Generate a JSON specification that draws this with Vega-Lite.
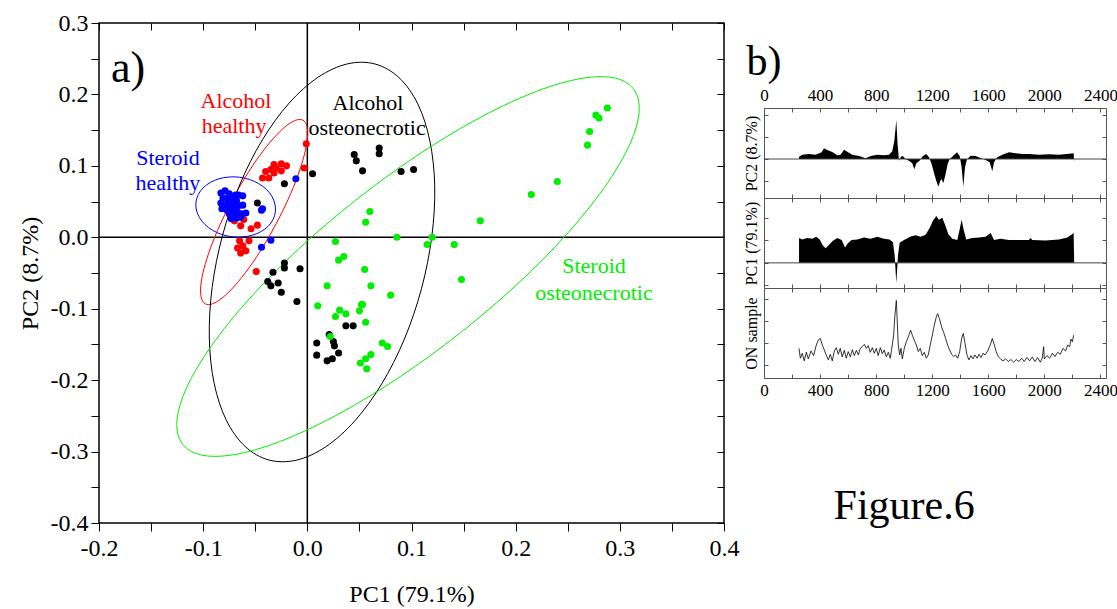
{
"$schema": "https://vega.github.io/schema/vega-lite/v6.json",
"background": "white",
"padding": {"left": 17, "top": 10, "right": 0, "bottom": 0},
"config": {
  "font": "Liberation Serif",
  "view": {"stroke": null},
  "axis": {"labelFont": "Liberation Serif", "titleFont": "Liberation Serif", "labelColor": "black", "titleColor": "black", "titleFontWeight": "normal", "domainColor": "black", "tickColor": "black", "grid": false, "labelFlush": false, "labelOverlap": false},
  "text": {"font": "Liberation Serif"}
},
"datasets": {
  "points": [
    {"g":"AH","x":-0.001,"y":0.131},{"g":"AH","x":-0.003,"y":0.097},{"g":"AH","x":-0.032,"y":0.102},{"g":"AH","x":-0.025,"y":0.103},{"g":"AH","x":-0.040,"y":0.092},{"g":"AH","x":-0.035,"y":0.095},{"g":"AH","x":-0.030,"y":0.097},{"g":"AH","x":-0.025,"y":0.093},{"g":"AH","x":-0.037,"y":0.083},{"g":"AH","x":-0.032,"y":0.090},{"g":"AH","x":-0.020,"y":0.100},{"g":"AH","x":-0.043,"y":0.083},{"g":"AH","x":-0.070,"y":0.023},{"g":"AH","x":-0.061,"y":0.025},{"g":"AH","x":-0.064,"y":0.016},{"g":"AH","x":-0.048,"y":0.017},{"g":"AH","x":-0.068,"y":0.034},{"g":"AH","x":-0.054,"y":0.012},{"g":"AH","x":-0.065,"y":-0.005},{"g":"AH","x":-0.062,"y":-0.012},{"g":"AH","x":-0.059,"y":-0.019},{"g":"AH","x":-0.056,"y":-0.005},{"g":"AH","x":-0.067,"y":-0.015},{"g":"AH","x":-0.064,"y":-0.022},{"g":"AH","x":-0.049,"y":-0.048},
    {"g":"SH","x":-0.083,"y":0.062},{"g":"SH","x":-0.079,"y":0.065},{"g":"SH","x":-0.075,"y":0.061},{"g":"SH","x":-0.081,"y":0.055},{"g":"SH","x":-0.077,"y":0.054},{"g":"SH","x":-0.073,"y":0.056},{"g":"SH","x":-0.069,"y":0.059},{"g":"SH","x":-0.066,"y":0.059},{"g":"SH","x":-0.062,"y":0.058},{"g":"SH","x":-0.083,"y":0.048},{"g":"SH","x":-0.079,"y":0.045},{"g":"SH","x":-0.075,"y":0.048},{"g":"SH","x":-0.071,"y":0.049},{"g":"SH","x":-0.068,"y":0.051},{"g":"SH","x":-0.082,"y":0.040},{"g":"SH","x":-0.077,"y":0.038},{"g":"SH","x":-0.073,"y":0.041},{"g":"SH","x":-0.069,"y":0.042},{"g":"SH","x":-0.066,"y":0.044},{"g":"SH","x":-0.062,"y":0.045},{"g":"SH","x":-0.075,"y":0.033},{"g":"SH","x":-0.070,"y":0.034},{"g":"SH","x":-0.067,"y":0.035},{"g":"SH","x":-0.063,"y":0.033},{"g":"SH","x":-0.059,"y":0.034},{"g":"SH","x":-0.073,"y":0.026},{"g":"SH","x":-0.068,"y":0.027},{"g":"SH","x":-0.064,"y":0.028},{"g":"SH","x":-0.044,"y":0.038},{"g":"SH","x":-0.043,"y":0.040},{"g":"SH","x":-0.011,"y":0.082},{"g":"SH","x":-0.035,"y":-0.004},{"g":"SH","x":-0.044,"y":-0.014},
    {"g":"AO","x":0.005,"y":0.089},{"g":"AO","x":-0.022,"y":0.075},{"g":"AO","x":-0.048,"y":0.048},{"g":"AO","x":0.045,"y":0.116},{"g":"AO","x":0.047,"y":0.107},{"g":"AO","x":0.053,"y":0.093},{"g":"AO","x":0.069,"y":0.125},{"g":"AO","x":0.069,"y":0.117},{"g":"AO","x":0.090,"y":0.092},{"g":"AO","x":0.102,"y":0.095},{"g":"AO","x":-0.022,"y":-0.036},{"g":"AO","x":-0.022,"y":-0.043},{"g":"AO","x":-0.007,"y":-0.044},{"g":"AO","x":-0.033,"y":-0.049},{"g":"AO","x":-0.038,"y":-0.062},{"g":"AO","x":-0.035,"y":-0.068},{"g":"AO","x":-0.028,"y":-0.064},{"g":"AO","x":-0.025,"y":-0.077},{"g":"AO","x":-0.010,"y":-0.090},{"g":"AO","x":0.037,"y":-0.124},{"g":"AO","x":0.044,"y":-0.124},{"g":"AO","x":0.021,"y":-0.136},{"g":"AO","x":0.009,"y":-0.148},{"g":"AO","x":0.025,"y":-0.146},{"g":"AO","x":0.026,"y":-0.152},{"g":"AO","x":0.009,"y":-0.165},{"g":"AO","x":0.030,"y":-0.162},{"g":"AO","x":0.019,"y":-0.173},{"g":"AO","x":0.024,"y":-0.170},
    {"g":"SO","x":0.288,"y":0.181},{"g":"SO","x":0.280,"y":0.167},{"g":"SO","x":0.277,"y":0.171},{"g":"SO","x":0.271,"y":0.148},{"g":"SO","x":0.269,"y":0.129},{"g":"SO","x":0.240,"y":0.078},{"g":"SO","x":0.215,"y":0.060},{"g":"SO","x":0.166,"y":0.023},{"g":"SO","x":0.141,"y":-0.010},{"g":"SO","x":0.148,"y":-0.059},{"g":"SO","x":0.060,"y":0.036},{"g":"SO","x":0.056,"y":0.021},{"g":"SO","x":0.027,"y":-0.006},{"g":"SO","x":0.086,"y":0.000},{"g":"SO","x":0.120,"y":0.000},{"g":"SO","x":0.115,"y":-0.010},{"g":"SO","x":0.035,"y":-0.027},{"g":"SO","x":0.030,"y":-0.032},{"g":"SO","x":0.055,"y":-0.045},{"g":"SO","x":0.061,"y":-0.068},{"g":"SO","x":0.019,"y":-0.068},{"g":"SO","x":0.080,"y":-0.081},{"g":"SO","x":0.010,"y":-0.096},{"g":"SO","x":0.052,"y":-0.094},{"g":"SO","x":0.053,"y":-0.094},{"g":"SO","x":0.050,"y":-0.103},{"g":"SO","x":0.031,"y":-0.102},{"g":"SO","x":0.037,"y":-0.107},{"g":"SO","x":0.027,"y":-0.111},{"g":"SO","x":0.056,"y":-0.119},{"g":"SO","x":0.022,"y":-0.139},{"g":"SO","x":0.072,"y":-0.148},{"g":"SO","x":0.077,"y":-0.153},{"g":"SO","x":0.061,"y":-0.164},{"g":"SO","x":0.056,"y":-0.170},{"g":"SO","x":0.051,"y":-0.176},{"g":"SO","x":0.057,"y":-0.184}
  ],
  "ellipses": [
    {"g":"SH","i":0,"x":-0.0307,"y":0.0356},{"g":"SH","i":1,"x":-0.0329,"y":0.0250},{"g":"SH","i":2,"x":-0.0375,"y":0.0156},{"g":"SH","i":3,"x":-0.0443,"y":0.0081},{"g":"SH","i":4,"x":-0.0528,"y":0.0029},{"g":"SH","i":5,"x":-0.0623,"y":0.0004},{"g":"SH","i":6,"x":-0.0723,"y":0.0007},{"g":"SH","i":7,"x":-0.0820,"y":0.0039},{"g":"SH","i":8,"x":-0.0909,"y":0.0097},{"g":"SH","i":9,"x":-0.0982,"y":0.0178},{"g":"SH","i":10,"x":-0.1035,"y":0.0275},{"g":"SH","i":11,"x":-0.1065,"y":0.0382},{"g":"SH","i":12,"x":-0.1069,"y":0.0492},{"g":"SH","i":13,"x":-0.1047,"y":0.0598},{"g":"SH","i":14,"x":-0.1000,"y":0.0692},{"g":"SH","i":15,"x":-0.0932,"y":0.0767},{"g":"SH","i":16,"x":-0.0848,"y":0.0819},{"g":"SH","i":17,"x":-0.0752,"y":0.0844},{"g":"SH","i":18,"x":-0.0653,"y":0.0841},{"g":"SH","i":19,"x":-0.0555,"y":0.0809},{"g":"SH","i":20,"x":-0.0467,"y":0.0751},{"g":"SH","i":21,"x":-0.0393,"y":0.0671},{"g":"SH","i":22,"x":-0.0340,"y":0.0573},{"g":"SH","i":23,"x":-0.0311,"y":0.0466},
    {"g":"AH","i":0,"x":-0.0042,"y":0.1640},{"g":"AH","i":1,"x":-0.0003,"y":0.1553},{"g":"AH","i":2,"x":0.0001,"y":0.1385},{"g":"AH","i":3,"x":-0.0030,"y":0.1147},{"g":"AH","i":4,"x":-0.0093,"y":0.0855},{"g":"AH","i":5,"x":-0.0185,"y":0.0528},{"g":"AH","i":6,"x":-0.0299,"y":0.0190},{"g":"AH","i":7,"x":-0.0427,"y":-0.0137},{"g":"AH","i":8,"x":-0.0562,"y":-0.0431},{"g":"AH","i":9,"x":-0.0692,"y":-0.0671},{"g":"AH","i":10,"x":-0.0811,"y":-0.0842},{"g":"AH","i":11,"x":-0.0909,"y":-0.0930},{"g":"AH","i":12,"x":-0.0980,"y":-0.0932},{"g":"AH","i":13,"x":-0.1018,"y":-0.0845},{"g":"AH","i":14,"x":-0.1023,"y":-0.0677},{"g":"AH","i":15,"x":-0.0992,"y":-0.0439},{"g":"AH","i":16,"x":-0.0929,"y":-0.0147},{"g":"AH","i":17,"x":-0.0837,"y":0.0180},{"g":"AH","i":18,"x":-0.0723,"y":0.0518},{"g":"AH","i":19,"x":-0.0594,"y":0.0845},{"g":"AH","i":20,"x":-0.0460,"y":0.1139},{"g":"AH","i":21,"x":-0.0329,"y":0.1379},{"g":"AH","i":22,"x":-0.0211,"y":0.1550},{"g":"AH","i":23,"x":-0.0113,"y":0.1638},
    {"g":"AO","i":0,"x":0.0650,"y":0.2426},{"g":"AO","i":1,"x":0.0880,"y":0.2235},{"g":"AO","i":2,"x":0.1060,"y":0.1868},{"g":"AO","i":3,"x":0.1176,"y":0.1350},{"g":"AO","i":4,"x":0.1223,"y":0.0717},{"g":"AO","i":5,"x":0.1195,"y":0.0011},{"g":"AO","i":6,"x":0.1096,"y":-0.0719},{"g":"AO","i":7,"x":0.0932,"y":-0.1424},{"g":"AO","i":8,"x":0.0713,"y":-0.2055},{"g":"AO","i":9,"x":0.0456,"y":-0.2570},{"g":"AO","i":10,"x":0.0177,"y":-0.2933},{"g":"AO","i":11,"x":-0.0104,"y":-0.3120},{"g":"AO","i":12,"x":-0.0369,"y":-0.3118},{"g":"AO","i":13,"x":-0.0598,"y":-0.2927},{"g":"AO","i":14,"x":-0.0778,"y":-0.2560},{"g":"AO","i":15,"x":-0.0895,"y":-0.2042},{"g":"AO","i":16,"x":-0.0941,"y":-0.1409},{"g":"AO","i":17,"x":-0.0914,"y":-0.0703},{"g":"AO","i":18,"x":-0.0814,"y":0.0027},{"g":"AO","i":19,"x":-0.0650,"y":0.0732},{"g":"AO","i":20,"x":-0.0432,"y":0.1363},{"g":"AO","i":21,"x":-0.0175,"y":0.1878},{"g":"AO","i":22,"x":0.0104,"y":0.2241},{"g":"AO","i":23,"x":0.0386,"y":0.2428},
    {"g":"SO","i":0,"x":0.3129,"y":0.2081},{"g":"SO","i":1,"x":0.3185,"y":0.1756},{"g":"SO","i":2,"x":0.3090,"y":0.1284},{"g":"SO","i":3,"x":0.2851,"y":0.0696},{"g":"SO","i":4,"x":0.2483,"y":0.0032},{"g":"SO","i":5,"x":0.2012,"y":-0.0661},{"g":"SO","i":6,"x":0.1469,"y":-0.1337},{"g":"SO","i":7,"x":0.0893,"y":-0.1950},{"g":"SO","i":8,"x":0.0321,"y":-0.2458},{"g":"SO","i":9,"x":-0.0207,"y":-0.2827},{"g":"SO","i":10,"x":-0.0655,"y":-0.3030},{"g":"SO","i":11,"x":-0.0992,"y":-0.3055},{"g":"SO","i":12,"x":-0.1196,"y":-0.2899},{"g":"SO","i":13,"x":-0.1252,"y":-0.2574},{"g":"SO","i":14,"x":-0.1158,"y":-0.2102},{"g":"SO","i":15,"x":-0.0918,"y":-0.1514},{"g":"SO","i":16,"x":-0.0550,"y":-0.0850},{"g":"SO","i":17,"x":-0.0079,"y":-0.0157},{"g":"SO","i":18,"x":0.0464,"y":0.0519},{"g":"SO","i":19,"x":0.1040,"y":0.1132},{"g":"SO","i":20,"x":0.1612,"y":0.1640},{"g":"SO","i":21,"x":0.2140,"y":0.2009},{"g":"SO","i":22,"x":0.2588,"y":0.2212},{"g":"SO","i":23,"x":0.2925,"y":0.2237}
  ],
  "labels": [
    {"g":"AH","x":-0.0685,"y":0.191,"t":"Alcohol"},{"g":"AH","x":-0.0704,"y":0.156,"t":"healthy"},
    {"g":"SH","x":-0.1338,"y":0.111,"t":"Steroid"},{"g":"SH","x":-0.1338,"y":0.076,"t":"healthy"},
    {"g":"AO","x":0.0582,"y":0.188,"t":"Alcohol"},{"g":"AO","x":0.0573,"y":0.153,"t":"osteonecrotic"},
    {"g":"SO","x":0.2752,"y":-0.040,"t":"Steroid"},{"g":"SO","x":0.2752,"y":-0.078,"t":"osteonecrotic"}
  ],
  "pc2": [
    {"x":250,"v":0.07},{"x":273,"v":0.13},{"x":321,"v":0.15},{"x":368,"v":0.13},{"x":411,"v":0.20},{"x":428,"v":0.32},{"x":451,"v":0.27},{"x":487,"v":0.21},{"x":523,"v":0.11},{"x":547,"v":0.13},{"x":571,"v":0.28},{"x":594,"v":0.22},{"x":630,"v":0.13},{"x":678,"v":0.09},{"x":725,"v":0.02},{"x":761,"v":0.09},{"x":808,"v":0.13},{"x":856,"v":0.11},{"x":892,"v":0.13},{"x":915,"v":0.23},{"x":930,"v":0.55},{"x":944,"v":1.17},{"x":953,"v":0.45},{"x":963,"v":-0.05},{"x":977,"v":0.07},{"x":991,"v":0.09},{"x":1011,"v":-0.01},{"x":1034,"v":-0.05},{"x":1058,"v":-0.13},{"x":1072,"v":-0.31},{"x":1087,"v":-0.13},{"x":1110,"v":-0.05},{"x":1134,"v":0.09},{"x":1158,"v":0.15},{"x":1177,"v":0.05},{"x":1196,"v":-0.15},{"x":1215,"v":-0.45},{"x":1229,"v":-0.65},{"x":1244,"v":-0.83},{"x":1258,"v":-0.65},{"x":1267,"v":-0.60},{"x":1279,"v":-0.73},{"x":1296,"v":-0.45},{"x":1310,"v":-0.15},{"x":1324,"v":-0.01},{"x":1348,"v":0.09},{"x":1377,"v":0.20},{"x":1396,"v":0.09},{"x":1410,"v":-0.25},{"x":1422,"v":-0.83},{"x":1434,"v":-0.25},{"x":1448,"v":-0.01},{"x":1474,"v":0.10},{"x":1510,"v":0.09},{"x":1545,"v":0.03},{"x":1581,"v":-0.03},{"x":1610,"v":-0.10},{"x":1629,"v":-0.37},{"x":1641,"v":-0.10},{"x":1664,"v":0.05},{"x":1700,"v":0.13},{"x":1748,"v":0.20},{"x":1795,"v":0.17},{"x":1843,"v":0.15},{"x":1890,"v":0.15},{"x":1962,"v":0.13},{"x":2033,"v":0.14},{"x":2104,"v":0.13},{"x":2176,"v":0.16},{"x":2209,"v":0.17},{"x":2213,"v":-0.1}
  ],
  "pc1": [
    {"x":250,"v":0.73},{"x":273,"v":0.69},{"x":309,"v":0.73},{"x":345,"v":0.71},{"x":373,"v":0.77},{"x":397,"v":0.69},{"x":420,"v":0.51},{"x":440,"v":0.43},{"x":464,"v":0.53},{"x":492,"v":0.65},{"x":523,"v":0.73},{"x":554,"v":0.67},{"x":578,"v":0.45},{"x":597,"v":0.57},{"x":625,"v":0.67},{"x":666,"v":0.69},{"x":713,"v":0.75},{"x":761,"v":0.71},{"x":808,"v":0.77},{"x":856,"v":0.71},{"x":896,"v":0.69},{"x":920,"v":0.61},{"x":932,"v":0.23},{"x":944,"v":-0.59},{"x":956,"v":0.23},{"x":968,"v":0.59},{"x":999,"v":0.67},{"x":1046,"v":0.78},{"x":1082,"v":0.81},{"x":1118,"v":0.77},{"x":1153,"v":0.83},{"x":1182,"v":1.03},{"x":1206,"v":1.25},{"x":1229,"v":1.38},{"x":1248,"v":1.27},{"x":1272,"v":1.33},{"x":1291,"v":1.13},{"x":1315,"v":0.85},{"x":1343,"v":0.71},{"x":1379,"v":0.67},{"x":1398,"v":1.03},{"x":1410,"v":1.27},{"x":1424,"v":0.98},{"x":1443,"v":0.69},{"x":1486,"v":0.73},{"x":1534,"v":0.75},{"x":1581,"v":0.77},{"x":1617,"v":0.88},{"x":1641,"v":0.67},{"x":1688,"v":0.71},{"x":1748,"v":0.67},{"x":1819,"v":0.67},{"x":1890,"v":0.67},{"x":1902,"v":0.73},{"x":1914,"v":0.67},{"x":2009,"v":0.66},{"x":2104,"v":0.69},{"x":2164,"v":0.75},{"x":2200,"v":0.85},{"x":2209,"v":0.88},{"x":2213,"v":0}
  ],
  "on": [
    {"x":250,"v":0.90},{"x":259,"v":0.60},{"x":273,"v":0.75},{"x":287,"v":0.52},{"x":302,"v":0.78},{"x":316,"v":0.58},{"x":335,"v":0.82},{"x":354,"v":0.68},{"x":373,"v":1.00},{"x":387,"v":1.15},{"x":402,"v":1.20},{"x":416,"v":1.00},{"x":430,"v":0.85},{"x":444,"v":0.70},{"x":459,"v":0.55},{"x":473,"v":0.72},{"x":487,"v":0.52},{"x":502,"v":0.82},{"x":516,"v":0.92},{"x":530,"v":0.72},{"x":544,"v":0.90},{"x":558,"v":0.64},{"x":573,"v":0.84},{"x":587,"v":0.60},{"x":601,"v":0.80},{"x":616,"v":0.64},{"x":630,"v":0.86},{"x":644,"v":0.68},{"x":659,"v":0.84},{"x":673,"v":0.70},{"x":687,"v":0.90},{"x":701,"v":0.95},{"x":716,"v":1.02},{"x":730,"v":0.90},{"x":744,"v":0.98},{"x":758,"v":0.78},{"x":773,"v":0.92},{"x":787,"v":0.75},{"x":801,"v":0.90},{"x":815,"v":0.68},{"x":830,"v":0.92},{"x":844,"v":0.74},{"x":858,"v":0.85},{"x":873,"v":0.64},{"x":887,"v":0.78},{"x":901,"v":0.60},{"x":915,"v":1.00},{"x":925,"v":1.30},{"x":934,"v":1.90},{"x":944,"v":2.35},{"x":951,"v":1.70},{"x":958,"v":1.00},{"x":968,"v":0.70},{"x":977,"v":0.90},{"x":987,"v":0.58},{"x":1001,"v":0.90},{"x":1015,"v":1.10},{"x":1030,"v":1.25},{"x":1046,"v":1.45},{"x":1058,"v":1.30},{"x":1072,"v":1.15},{"x":1087,"v":1.00},{"x":1101,"v":0.80},{"x":1115,"v":0.90},{"x":1129,"v":0.68},{"x":1144,"v":0.78},{"x":1158,"v":0.60},{"x":1172,"v":0.70},{"x":1186,"v":1.00},{"x":1201,"v":1.30},{"x":1215,"v":1.60},{"x":1229,"v":1.85},{"x":1239,"v":1.95},{"x":1253,"v":1.78},{"x":1267,"v":1.55},{"x":1282,"v":1.38},{"x":1296,"v":1.20},{"x":1310,"v":1.00},{"x":1324,"v":0.85},{"x":1339,"v":0.72},{"x":1353,"v":0.65},{"x":1367,"v":0.70},{"x":1382,"v":0.60},{"x":1396,"v":0.80},{"x":1410,"v":1.20},{"x":1422,"v":1.35},{"x":1434,"v":1.05},{"x":1448,"v":0.70},{"x":1462,"v":0.55},{"x":1477,"v":0.68},{"x":1491,"v":0.58},{"x":1505,"v":0.70},{"x":1520,"v":0.60},{"x":1534,"v":0.72},{"x":1548,"v":0.62},{"x":1562,"v":0.75},{"x":1577,"v":0.70},{"x":1596,"v":0.82},{"x":1614,"v":1.00},{"x":1629,"v":1.20},{"x":1643,"v":1.00},{"x":1657,"v":0.80},{"x":1671,"v":0.65},{"x":1688,"v":0.58},{"x":1705,"v":0.52},{"x":1724,"v":0.58},{"x":1743,"v":0.50},{"x":1762,"v":0.56},{"x":1781,"v":0.48},{"x":1800,"v":0.56},{"x":1819,"v":0.50},{"x":1838,"v":0.60},{"x":1857,"v":0.50},{"x":1876,"v":0.62},{"x":1895,"v":0.52},{"x":1914,"v":0.64},{"x":1933,"v":0.50},{"x":1952,"v":0.62},{"x":1971,"v":0.48},{"x":1985,"v":0.60},{"x":1995,"v":0.95},{"x":2000,"v":0.58},{"x":2019,"v":0.68},{"x":2038,"v":0.60},{"x":2057,"v":0.75},{"x":2076,"v":0.65},{"x":2095,"v":0.78},{"x":2114,"v":0.72},{"x":2133,"v":0.90},{"x":2152,"v":0.82},{"x":2166,"v":1.00},{"x":2181,"v":0.95},{"x":2190,"v":1.18},{"x":2200,"v":1.10},{"x":2209,"v":1.30}
  ]
},
"hconcat": [
  {
    "width": 625, "height": 500,
    "view": {"stroke": "black", "strokeWidth": 1.5},
    "layer": [
      {"data": {"values": [{}]}, "mark": {"type": "rule", "strokeWidth": 1.5, "color": "black"}, "encoding": {"x": {"datum": 0, "type": "quantitative", "axis": null}}},
      {"data": {"values": [{}]}, "mark": {"type": "rule", "strokeWidth": 1.5, "color": "black"}, "encoding": {"y": {"datum": 0, "type": "quantitative", "axis": null}}},
      {
        "data": {"name": "ellipses"},
        "mark": {"type": "line", "interpolate": "cardinal-closed", "strokeWidth": 1},
        "encoding": {
          "x": {"field": "x", "type": "quantitative", "scale": {"domain": [-0.2, 0.4], "nice": false, "zero": false},
                "axis": {"orient": "bottom", "values": [-0.2,-0.15,-0.1,-0.05,0,0.05,0.1,0.15,0.2,0.25,0.3,0.35,0.4], "labelExpr": "abs(datum.value*10 - round(datum.value*10)) < 0.01 ? (datum.value < -0.001 ? '-' : '') + format(abs(datum.value), '.1f') : ''", "tickSize": 8, "labelPadding": 5, "labelFontSize": 24, "domain": false, "title": "PC1 (79.1%)", "titleFontSize": 24, "titlePadding": 22}},
          "y": {"field": "y", "type": "quantitative", "scale": {"domain": [-0.4, 0.3], "nice": false, "zero": false},
                "axis": {"orient": "left", "values": [-0.4,-0.35,-0.3,-0.25,-0.2,-0.15,-0.1,-0.05,0,0.05,0.1,0.15,0.2,0.25,0.3], "labelExpr": "abs(datum.value*10 - round(datum.value*10)) < 0.01 ? (datum.value < -0.001 ? '-' : '') + format(abs(datum.value), '.1f') : ''", "tickSize": 8, "labelPadding": 3, "labelFontSize": 24, "domain": false, "title": "PC2 (8.7%)", "titleFontSize": 24, "titlePadding": 8}},
          "color": {"field": "g", "type": "nominal", "scale": {"domain": ["AH","SH","AO","SO"], "range": ["#ff0000","#0000ff","#000000","#00ee00"]}, "legend": null},
          "order": {"field": "i", "type": "quantitative"}
        }
      },
      {
        "data": {"name": "points"},
        "mark": {"type": "circle", "size": 50, "opacity": 1},
        "encoding": {
          "x": {"field": "x", "type": "quantitative", "axis": {"orient": "top", "values": [-0.2,-0.15,-0.1,-0.05,0,0.05,0.1,0.15,0.2,0.25,0.3,0.35,0.4], "labels": false, "tickSize": -7, "domain": false, "title": null}},
          "y": {"field": "y", "type": "quantitative", "axis": {"orient": "right", "values": [-0.4,-0.35,-0.3,-0.25,-0.2,-0.15,-0.1,-0.05,0,0.05,0.1,0.15,0.2,0.25,0.3], "labels": false, "tickSize": -7, "domain": false, "title": null}},
          "color": {"field": "g", "type": "nominal", "legend": null}
        }
      },
      {
        "data": {"name": "labels"},
        "mark": {"type": "text", "fontSize": 22, "align": "center", "baseline": "middle"},
        "encoding": {
          "x": {"field": "x", "type": "quantitative", "axis": null},
          "y": {"field": "y", "type": "quantitative", "axis": null},
          "text": {"field": "t"},
          "color": {"field": "g", "type": "nominal", "legend": null}
        }
      },
      {
        "data": {"values": [{"x": -0.172, "y": 0.236, "t": "a)"}]},
        "mark": {"type": "text", "fontSize": 44, "align": "center", "baseline": "middle", "color": "black"},
        "encoding": {
          "x": {"field": "x", "type": "quantitative", "axis": null},
          "y": {"field": "y", "type": "quantitative", "axis": null},
          "text": {"field": "t"}
        }
      }
    ],
    "resolve": {"axis": {"x": "independent", "y": "independent"}}
  },
  {
    "spacing": 0,
    "bounds": "flush",
    "vconcat": [
      {
        "width": 342, "height": 85,
        "data": {"values": [{"x": 0, "y": 0.54, "t": "b)"}]},
        "mark": {"type": "text", "fontSize": 42, "align": "center", "baseline": "middle", "color": "black"},
        "encoding": {
          "x": {"field": "x", "type": "quantitative", "scale": {"domain": [0, 2440]}, "axis": null},
          "y": {"field": "y", "type": "quantitative", "scale": {"domain": [0, 1]}, "axis": null},
          "text": {"field": "t"}
        }
      },
      {
        "width": 342, "height": 90,
        "view": {"stroke": "#555", "strokeWidth": 1},
        "layer": [
          {
            "data": {"name": "pc2"},
            "mark": {"type": "area", "color": "black"},
            "encoding": {
              "x": {"field": "x", "type": "quantitative", "scale": {"domain": [0, 2440], "nice": false, "zero": false},
                    "axis": {"orient": "top", "values": [0,200,400,600,800,1000,1200,1400,1600,1800,2000,2200,2400], "labelExpr": "datum.value % 400 == 0 ? format(datum.value, 'd') : ''", "tickSize": -4, "labelPadding": 8, "labelFontSize": 17, "domain": false, "title": null, "tickColor": "#555"}},
              "y": {"field": "v", "type": "quantitative", "scale": {"domain": [-1.17, 1.53], "nice": false, "zero": false},
                    "axis": {"orient": "left", "values": [-0.66, 0, 0.66, 1.33], "labels": false, "tickSize": -4, "domain": false, "title": "PC2 (8.7%)", "titleFontSize": 16, "titlePadding": 4, "tickColor": "#555"}},
              "y2": {"datum": 0}
            }
          },
          {
            "data": {"values": [{}]},
            "mark": {"type": "rule", "color": "#444", "strokeWidth": 1},
            "encoding": {
              "x": {"datum": 0, "type": "quantitative", "axis": {"orient": "bottom", "values": [0,200,400,600,800,1000,1200,1400,1600,1800,2000,2200,2400], "labels": false, "tickSize": -4, "domain": false, "title": null, "tickColor": "#555"}},
              "x2": {"datum": 2440},
              "y": {"datum": 0, "type": "quantitative", "axis": {"orient": "right", "values": [-0.66, 0, 0.66, 1.33], "labels": false, "tickSize": -4, "domain": false, "title": null, "tickColor": "#555"}}
            }
          }
        ],
        "resolve": {"axis": {"x": "independent", "y": "independent"}}
      },
      {
        "width": 342, "height": 90,
        "view": {"stroke": "#555", "strokeWidth": 1},
        "layer": [
          {
            "data": {"name": "pc1"},
            "mark": {"type": "area", "color": "black"},
            "encoding": {
              "x": {"field": "x", "type": "quantitative", "scale": {"domain": [0, 2440], "nice": false, "zero": false},
                    "axis": {"orient": "top", "values": [0,200,400,600,800,1000,1200,1400,1600,1800,2000,2200,2400], "labels": false, "tickSize": -4, "domain": false, "title": null, "tickColor": "#555"}},
              "y": {"field": "v", "type": "quantitative", "scale": {"domain": [-0.74, 1.91], "nice": false, "zero": false},
                    "axis": {"orient": "left", "values": [-0.66, 0, 0.66, 1.33], "labels": false, "tickSize": -4, "domain": false, "title": "PC1 (79.1%)", "titleFontSize": 16, "titlePadding": 4, "tickColor": "#555"}},
              "y2": {"datum": 0}
            }
          },
          {
            "data": {"values": [{}]},
            "mark": {"type": "rule", "color": "#444", "strokeWidth": 1},
            "encoding": {
              "x": {"datum": 0, "type": "quantitative", "axis": {"orient": "bottom", "values": [0,200,400,600,800,1000,1200,1400,1600,1800,2000,2200,2400], "labels": false, "tickSize": -4, "domain": false, "title": null, "tickColor": "#555"}},
              "x2": {"datum": 2440},
              "y": {"datum": 0, "type": "quantitative", "axis": {"orient": "right", "values": [-0.66, 0, 0.66, 1.33], "labels": false, "tickSize": -4, "domain": false, "title": null, "tickColor": "#555"}}
            }
          }
        ],
        "resolve": {"axis": {"x": "independent", "y": "independent"}}
      },
      {
        "width": 342, "height": 90,
        "view": {"stroke": "#555", "strokeWidth": 1},
        "layer": [
          {
            "data": {"name": "on"},
            "mark": {"type": "line", "color": "black", "strokeWidth": 0.8},
            "encoding": {
              "x": {"field": "x", "type": "quantitative", "scale": {"domain": [0, 2440], "nice": false, "zero": false},
                    "axis": {"orient": "top", "values": [0,200,400,600,800,1000,1200,1400,1600,1800,2000,2200,2400], "labels": false, "tickSize": -4, "domain": false, "title": null, "tickColor": "#555"}},
              "y": {"field": "v", "type": "quantitative", "scale": {"domain": [0, 2.73], "nice": false, "zero": false},
                    "axis": {"orient": "left", "values": [0.4, 1.05, 1.72, 2.4], "labels": false, "tickSize": -4, "domain": false, "title": "ON sample", "titleFontSize": 16, "titlePadding": 4, "tickColor": "#555"}}
            }
          },
          {
            "data": {"values": [{}]},
            "mark": {"type": "rule", "strokeOpacity": 0},
            "encoding": {
              "x": {"datum": 0, "type": "quantitative", "axis": {"orient": "bottom", "values": [0,200,400,600,800,1000,1200,1400,1600,1800,2000,2200,2400], "labelExpr": "datum.value % 400 == 0 ? format(datum.value, 'd') : ''", "tickSize": -4, "labelPadding": 8, "labelFontSize": 17, "domain": false, "title": null, "tickColor": "#555"}},
              "x2": {"datum": 2440},
              "y": {"datum": 1, "type": "quantitative", "axis": {"orient": "right", "values": [0.4, 1.05, 1.72, 2.4], "labels": false, "tickSize": -4, "domain": false, "title": null, "tickColor": "#555"}}
            }
          }
        ],
        "resolve": {"axis": {"x": "independent", "y": "independent"}}
      },
      {
        "width": 342, "height": 180,
        "data": {"values": [{"x": 1000, "y": 0.289, "t": "Figure.6"}]},
        "mark": {"type": "text", "fontSize": 42, "align": "center", "baseline": "middle", "color": "black"},
        "encoding": {
          "x": {"field": "x", "type": "quantitative", "scale": {"domain": [0, 2440]}, "axis": null},
          "y": {"field": "y", "type": "quantitative", "scale": {"domain": [0, 1]}, "axis": null},
          "text": {"field": "t"}
        }
      }
    ]
  }
],
"spacing": 40,
"bounds": "flush"
}
